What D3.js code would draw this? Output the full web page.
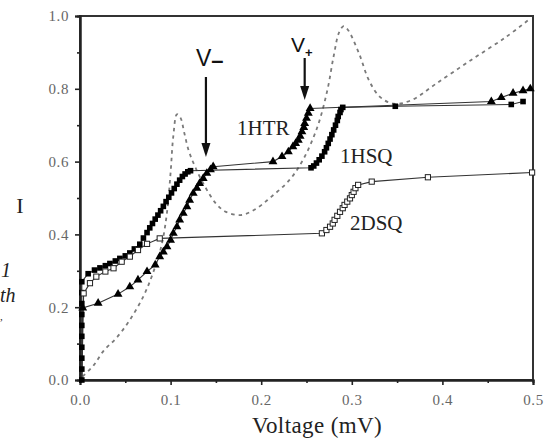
<!DOCTYPE html>
<html>
<head>
<meta charset="utf-8">
<script src="https://cdn.jsdelivr.net/npm/d3@7"></script>
<style>
  body { margin: 0; background: #fff; }
  svg { display: block; }
  svg text { font-family: "Liberation Serif", "Times New Roman", serif; }
</style>
</head>
<body>
<div id="chart"></div>
<script>
// tick values
const xTicks = [0, 0.1, 0.2, 0.3, 0.4, 0.5];
const xMinor = [0.05, 0.15, 0.25, 0.35, 0.45];
const yTicks = [0, 0.2, 0.4, 0.6, 0.8, 1.0];
const yMinor = [0.1, 0.3, 0.5, 0.7, 0.9];

// 1HTR (filled triangles), [voltage, I]
const htr = [[0.002,0.0],[0.003,0.198],[0.02,0.211],[0.042,0.236],[0.055,0.256],[0.064,0.275],[0.074,0.298],
  [0.083,0.316],[0.088,0.339],[0.092,0.352],[0.096,0.366],[0.1,0.384],[0.103,0.403],[0.107,0.421],[0.11,0.44],
  [0.114,0.458],[0.118,0.476],[0.121,0.494],[0.125,0.513],[0.129,0.527],[0.132,0.54],[0.136,0.554],[0.14,0.568],
  [0.144,0.578],[0.147,0.586],[0.213,0.6],[0.223,0.614],[0.23,0.627],[0.235,0.641],[0.238,0.65],[0.241,0.659],
  [0.243,0.67],[0.245,0.682],[0.247,0.694],[0.248,0.705],[0.25,0.719],[0.252,0.733],[0.254,0.746],
  [0.454,0.765],[0.465,0.776],[0.478,0.788],[0.489,0.795],[0.497,0.8]];

// 1HSQ (filled squares)
const hsq = [[0.002,0.0],[0.002,0.03],[0.002,0.06],[0.002,0.09],[0.002,0.12],[0.002,0.15],[0.002,0.18],
  [0.002,0.21],[0.002,0.24],[0.002,0.27],[0.009,0.292],[0.016,0.302],[0.022,0.308],[0.028,0.314],[0.033,0.32],
  [0.039,0.327],[0.044,0.334],[0.05,0.341],[0.055,0.349],[0.06,0.36],[0.066,0.373],[0.07,0.39],[0.074,0.405],
  [0.077,0.418],[0.08,0.43],[0.083,0.442],[0.086,0.453],[0.089,0.465],[0.092,0.477],[0.095,0.49],[0.098,0.502],
  [0.101,0.514],[0.104,0.526],[0.107,0.538],[0.11,0.549],[0.113,0.559],[0.116,0.566],[0.119,0.572],[0.122,0.575],
  [0.255,0.583],[0.258,0.588],[0.261,0.596],[0.264,0.605],[0.267,0.615],[0.27,0.627],[0.272,0.638],[0.274,0.65],
  [0.276,0.662],[0.278,0.674],[0.28,0.687],[0.282,0.7],[0.284,0.713],[0.285,0.724],[0.287,0.735],[0.288,0.743],
  [0.29,0.749],[0.348,0.752],[0.476,0.757],[0.489,0.765]];

// 2DSQ (open squares)
const dsq = [[0.002,0.0],[0.004,0.238],[0.011,0.266],[0.018,0.284],[0.028,0.298],[0.037,0.307],[0.046,0.325],
  [0.055,0.339],[0.064,0.357],[0.074,0.374],[0.088,0.389],[0.267,0.403],[0.272,0.412],[0.276,0.421],[0.279,0.43],
  [0.281,0.44],[0.284,0.451],[0.287,0.462],[0.29,0.472],[0.292,0.481],[0.295,0.49],[0.298,0.499],[0.3,0.508],
  [0.302,0.517],[0.304,0.527],[0.307,0.536],[0.322,0.545],[0.384,0.557],[0.499,0.57]];

// dotted reference curve
const dotted = [[0.003,0.01],[0.015,0.04],[0.026,0.08],[0.04,0.115],[0.055,0.165],[0.07,0.23],[0.08,0.29],
  [0.09,0.37],[0.096,0.46],[0.1,0.57],[0.103,0.67],[0.107,0.73],[0.111,0.72],[0.115,0.68],[0.12,0.63],
  [0.127,0.586],[0.138,0.531],[0.15,0.485],[0.161,0.462],[0.177,0.453],[0.192,0.467],[0.211,0.503],
  [0.231,0.549],[0.246,0.604],[0.262,0.695],[0.273,0.796],[0.28,0.89],[0.286,0.955],[0.291,0.972],
  [0.296,0.961],[0.308,0.897],[0.319,0.823],[0.331,0.778],[0.346,0.759],[0.366,0.769],[0.393,0.814],
  [0.431,0.878],[0.47,0.942],[0.497,0.993]];

const W = 547, H = 447;
const serif = "Liberation Serif";
const svg = d3.select("#chart").append("svg")
  .attr("width", W).attr("height", H);

const x = d3.scaleLinear().domain([0, 0.5]).range([80, 533]);
const y = d3.scaleLinear().domain([0, 1]).range([380, 16]);

// frame
svg.append("rect")
  .attr("x", x(0)).attr("y", y(1))
  .attr("width", x(0.5) - x(0)).attr("height", y(0) - y(1))
  .attr("fill", "none").attr("stroke", "#333").attr("stroke-width", 2);

// axes
svg.append("g").attr("transform", `translate(0,${y(0)})`)
  .call(d3.axisBottom(x).tickValues(xTicks).tickSize(5).tickPadding(9).tickFormat(d3.format(".1f")));
svg.append("g").attr("transform", `translate(0,${y(0)})`)
  .call(d3.axisBottom(x).tickValues(xMinor).tickSize(3).tickFormat(""));
svg.append("g").attr("transform", `translate(${x(0)},0)`)
  .call(d3.axisLeft(y).tickValues(yTicks).tickSize(5).tickPadding(6).tickFormat(d3.format(".1f")));
svg.append("g").attr("transform", `translate(${x(0)},0)`)
  .call(d3.axisLeft(y).tickValues(yMinor).tickSize(3).tickFormat(""));

svg.selectAll(".domain").attr("stroke", "#222").attr("stroke-width", 2);
svg.selectAll(".tick line").attr("stroke", "#222").attr("stroke-width", 1.6);
svg.selectAll(".tick text")
  .attr("fill", "#666")
  .attr("font-family", serif)
  .attr("font-size", 15)
  .attr("letter-spacing", 0.6);

// axis titles
svg.append("text").attr("x", 317).attr("y", 433)
  .attr("text-anchor", "middle").attr("fill", "#222")
  .attr("font-family", serif).attr("font-size", 23).attr("letter-spacing", 0.4)
  .text("Voltage (mV)");
svg.append("text").attr("x", 20).attr("y", 213)
  .attr("text-anchor", "middle").attr("fill", "#222")
  .attr("font-family", serif).attr("font-size", 22).text("I");

// fragments of the surrounding page text
const sideText = svg.append("g").attr("fill", "#222")
  .attr("font-style", "italic").attr("font-family", serif).attr("font-size", 20);
sideText.append("text").attr("x", 1).attr("y", 277).text("1");
sideText.append("text").attr("x", 0).attr("y", 302).text("th");
sideText.append("text").attr("x", 0).attr("y", 320).attr("font-size", 11).text(",");

// dotted curve
svg.append("path")
  .datum(dotted)
  .attr("fill", "none")
  .attr("stroke", "#7a7a7a")
  .attr("stroke-width", 1.8)
  .attr("stroke-dasharray", "3.5,4")
  .attr("d", d3.line().x(d => x(d[0])).y(d => y(d[1])).curve(d3.curveCatmullRom));

const line = d3.line().x(d => x(d[0])).y(d => y(d[1]));

// connecting lines
[hsq, htr, dsq].forEach(s => {
  svg.append("path").datum(s)
    .attr("fill", "none").attr("stroke", "#333").attr("stroke-width", 1.1)
    .attr("d", line);
});

// markers
const tri = d3.symbol().type(d3.symbolTriangle).size(34);
svg.append("g").selectAll("path")
  .data(htr.slice(1))
  .join("path")
    .attr("transform", d => `translate(${x(d[0])},${y(d[1])})`)
    .attr("d", tri)
    .attr("fill", "#000");

svg.append("g").selectAll("rect")
  .data(hsq)
  .join("rect")
    .attr("x", d => x(d[0]) - 2.8).attr("y", d => y(d[1]) - 2.8)
    .attr("width", 5.6).attr("height", 5.6)
    .attr("fill", "#000");

svg.append("g").selectAll("rect")
  .data(dsq.slice(1))
  .join("rect")
    .attr("x", d => x(d[0]) - 2.6).attr("y", d => y(d[1]) - 2.6)
    .attr("width", 5.2).attr("height", 5.2)
    .attr("fill", "#fff").attr("stroke", "#222").attr("stroke-width", 1);

// series labels
const lab = svg.append("g").attr("fill", "#222");
[["1HTR", 237, 135], ["1HSQ", 340, 163], ["2DSQ", 350, 230]].forEach(([t, lx, ly]) => {
  lab.append("text").attr("x", lx).attr("y", ly)
    .attr("font-family", serif).attr("font-size", 21).text(t);
});

// V- and V+ arrows
function arrow(xv, y0, y1) {
  const px = x(xv);
  svg.append("line").attr("x1", px).attr("x2", px).attr("y1", y0).attr("y2", y1 - 10)
    .attr("stroke", "#111").attr("stroke-width", 2.2);
  svg.append("path")
    .attr("d", `M${px - 4.5},${y1 - 14}L${px + 4.5},${y1 - 14}L${px},${y1}Z`)
    .attr("fill", "#111");
}
arrow(0.139, 77, 157);
arrow(0.248, 58, 100);

const sans = "Liberation Sans";
const vm = svg.append("text").attr("x", 196).attr("y", 66).attr("fill", "#111")
  .attr("font-size", 23).style("font-family", sans);
vm.append("tspan").text("V");
vm.append("tspan").attr("dy", 2).attr("font-size", 22).attr("font-weight", "bold").text("\u2013");
const vp = svg.append("text").attr("x", 291).attr("y", 52).attr("fill", "#111")
  .attr("font-size", 21).style("font-family", sans);
vp.append("tspan").text("V");
vp.append("tspan").attr("dy", 5).attr("font-size", 13).attr("font-weight", "bold").text("+");
</script>
</body>
</html>
